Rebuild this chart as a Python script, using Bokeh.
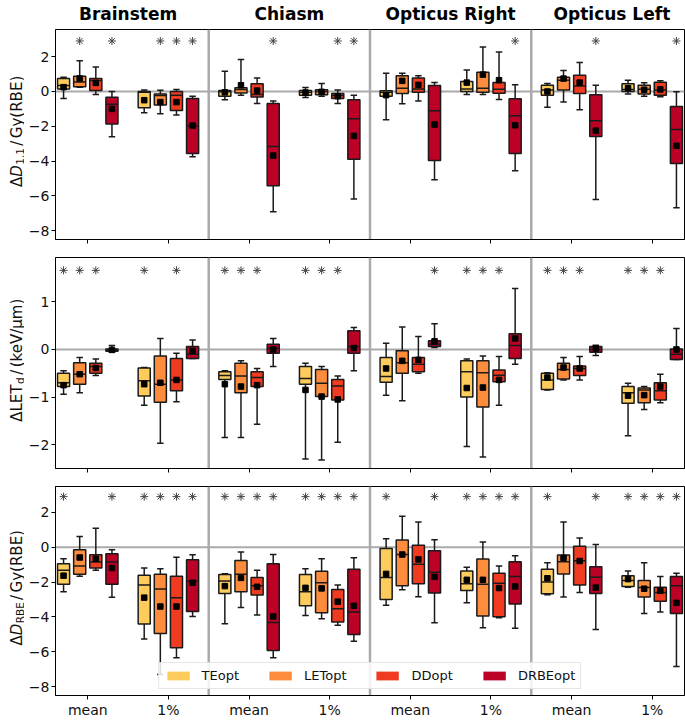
import numpy as np
from bokeh.plotting import figure
from bokeh.models import (ColumnDataSource, Span, LinearAxis, FixedTicker,
                          Range1d, Legend, LegendItem)
from bokeh.core.properties import value
from bokeh.layouts import column, row
from bokeh.embed import file_html
from bokeh.resources import INLINE

# ---------------- data ----------------
structures = ["Brainstem", "Chiasm", "Opticus Right", "Opticus Left"]
metrics = ["mean", "1%"]
methods = ["TEopt", "LETopt", "DDopt", "DRBEopt"]
colors = ["#fecc5c", "#fd8d3c", "#f03b20", "#bd0026"]

# order of every list: structure -> metric (mean, 1%) -> method (TE, LET, DD, DRBE)
# Row 1: Delta D_1.1 / Gy(RBE)
d11_lo = [-0.40, 0.25, -0.17, -2.60, -1.22, -1.28, -1.35, -3.75,
          -0.48, -0.21, -0.69, -6.90, -0.34, -0.27, -0.69, -6.17,
          -1.62, -0.70, -0.55, -5.07, -0.17, -0.17, -0.46, -4.55,
          -0.90, -0.61, -1.05, -6.21, -0.15, -0.27, -0.30, -6.67]
d11_q1 = [0.15, 0.27, 0.06, -1.87, -0.94, -0.78, -1.09, -3.56,
          -0.27, -0.08, -0.32, -5.41, -0.21, -0.19, -0.40, -3.89,
          -0.27, -0.11, -0.04, -3.96, 0.00, -0.04, -0.10, -3.56,
          -0.21, 0.08, -0.11, -2.59, 0.00, -0.15, -0.21, -4.13]
d11_med = [0.35, 0.55, 0.63, -0.73, -0.05, -0.23, -0.21, -1.98,
           -0.02, 0.11, -0.17, -3.16, -0.04, 0.00, -0.23, -1.56,
           -0.04, 0.19, 0.15, -1.10, 0.15, 0.19, 0.13, -1.39,
           0.08, 0.65, 0.32, -1.68, 0.12, 0.13, 0.08, -2.19]
d11_q3 = [0.75, 0.88, 0.74, -0.33, 0.00, -0.14, 0.00, -0.40,
          0.06, 0.21, 0.44, -0.69, 0.06, 0.10, -0.11, -0.48,
          0.04, 0.91, 0.78, 0.34, 0.57, 1.10, 0.51, -0.42,
          0.36, 0.82, 0.93, -0.19, 0.44, 0.36, 0.53, -0.86]
d11_hi = [0.82, 1.77, 1.41, 0.00, 0.08, 0.07, 0.11, -0.27,
          1.16, 1.83, 0.78, -0.55, 0.23, 0.46, 0.08, -0.21,
          1.05, 1.05, 0.91, 0.51, 1.24, 2.55, 2.27, 0.38,
          0.46, 1.20, 1.66, 0.36, 0.65, 0.50, 0.61, -0.02]
d11_mean = [0.25, 0.75, 0.49, -1.00, -0.50, -0.61, -0.61, -1.96,
            -0.05, 0.36, 0.05, -3.68, -0.06, -0.02, -0.27, -2.55,
            -0.21, 0.61, 0.38, -1.90, 0.51, 0.97, 0.65, -1.94,
            0.00, 0.74, 0.51, -2.25, 0.19, 0.10, 0.12, -3.12]
d11_star = [0, 1, 0, 1, 0, 1, 1, 1,
            0, 0, 0, 1, 0, 0, 1, 1,
            0, 0, 0, 0, 0, 0, 0, 1,
            0, 0, 0, 1, 0, 0, 0, 1]

# Row 2: Delta LET_d / (keV/um)
let_lo = [-0.94, -0.91, -0.55, -0.06, -1.17, -1.97, -1.10, -0.19,
          -1.85, -1.85, -1.57, -0.36, -2.30, -2.32, -1.95, -0.45,
          -0.96, -1.08, -0.50, 0.04, -2.04, -2.26, -1.17, -0.31,
          -0.85, -0.64, -0.64, -0.13, -1.81, -1.26, -1.12, -0.21]
let_q1 = [-0.78, -0.73, -0.50, -0.04, -0.98, -1.11, -0.87, -0.19,
          -0.63, -0.91, -0.78, -0.08, -0.73, -0.99, -1.06, -0.08,
          -0.69, -0.50, -0.47, 0.06, -1.00, -1.21, -0.68, -0.19,
          -0.84, -0.62, -0.55, -0.06, -1.13, -1.12, -1.06, -0.21]
let_med = [-0.70, -0.52, -0.36, -0.01, -0.66, -0.73, -0.64, -0.10,
           -0.55, -0.56, -0.59, 0.02, -0.61, -0.71, -0.77, 0.06,
           -0.57, -0.28, -0.31, 0.11, -0.47, -0.49, -0.54, 0.08,
           -0.64, -0.42, -0.40, 0.00, -0.91, -0.85, -0.87, -0.10]
let_q3 = [-0.50, -0.28, -0.29, 0.01, -0.39, -0.14, -0.19, 0.06,
          -0.47, -0.29, -0.47, 0.11, -0.36, -0.42, -0.63, 0.39,
          -0.17, -0.03, -0.17, 0.18, -0.24, -0.24, -0.43, 0.33,
          -0.50, -0.29, -0.35, 0.06, -0.78, -0.81, -0.70, 0.01]
let_hi = [-0.45, -0.17, -0.20, 0.08, -0.38, 0.23, -0.08, 0.20,
          -0.45, -0.24, -0.40, 0.23, -0.29, -0.36, -0.56, 0.46,
          0.13, 0.47, 0.27, 0.54, -0.20, -0.14, -0.15, 1.28,
          -0.49, -0.17, -0.15, 0.09, -0.71, -0.78, -0.52, 0.44]
let_mean = [-0.75, -0.52, -0.39, -0.01, -0.73, -0.70, -0.64, -0.03,
            -0.73, -0.78, -0.75, 0.00, -0.85, -0.99, -1.05, 0.03,
            -0.40, -0.24, -0.22, 0.17, -0.81, -0.80, -0.64, 0.23,
            -0.59, -0.38, -0.40, 0.02, -0.97, -0.96, -0.78, 0.00]
let_star = [1, 1, 1, 0, 1, 0, 1, 0,
            1, 1, 1, 0, 1, 1, 1, 0,
            0, 0, 0, 1, 1, 1, 1, 0,
            1, 1, 1, 0, 1, 1, 1, 0]

# Row 3: Delta D_RBE / Gy(RBE)
drbe_lo = [-2.55, -1.66, -1.32, -2.87, -5.26, -7.30, -6.33, -3.97,
           -4.39, -3.46, -3.88, -6.33, -3.91, -4.10, -4.48, -5.39,
           -3.33, -2.44, -2.84, -4.33, -3.19, -4.61, -4.05, -4.65,
           -2.72, -2.85, -2.59, -4.71, -2.29, -3.80, -3.72, -6.84]
drbe_q1 = [-2.12, -1.55, -1.19, -2.12, -4.40, -4.95, -5.77, -3.69,
           -2.65, -2.55, -2.74, -5.92, -3.35, -3.76, -4.29, -5.01,
           -3.00, -2.21, -2.10, -2.63, -2.48, -3.95, -3.99, -3.25,
           -2.67, -1.53, -2.16, -2.65, -2.25, -2.85, -3.10, -3.80]
drbe_med = [-1.32, -1.08, -0.85, -0.85, -2.17, -2.40, -2.89, -1.95,
            -1.93, -1.55, -2.21, -4.31, -2.55, -2.04, -3.53, -3.72,
            -1.74, -0.42, -0.98, -1.44, -2.10, -2.12, -2.06, -1.68,
            -2.00, -0.83, -0.78, -1.72, -1.91, -2.31, -2.59, -2.21]
drbe_q3 = [-0.95, -0.15, -0.43, -0.38, -1.61, -1.55, -1.66, -0.72,
           -1.57, -0.76, -1.74, -0.95, -1.57, -1.38, -2.42, -1.27,
           -0.08, 0.42, 0.11, -0.21, -1.36, -0.68, -1.49, -0.83,
           -1.27, -0.45, 0.06, -1.12, -1.63, -1.91, -2.29, -1.68]
drbe_hi = [-0.66, 0.62, 1.08, -0.15, -1.19, -1.23, -0.57, -0.43,
           -1.52, -0.28, -1.32, -0.42, -1.23, -0.66, -2.17, -0.60,
           0.49, 1.78, 1.44, 0.43, -1.15, 0.30, -1.08, -0.49,
           -0.89, 1.44, 0.53, 0.15, -1.36, -0.89, -1.68, -1.49]
drbe_mean = [-1.63, -0.59, -0.66, -1.19, -2.89, -3.40, -3.40, -2.04,
             -2.23, -1.76, -2.27, -3.97, -2.33, -2.36, -3.12, -3.36,
             -1.53, -0.42, -0.70, -1.70, -1.87, -1.87, -2.34, -2.25,
             -1.78, -0.62, -0.79, -2.31, -1.83, -2.38, -2.50, -3.19]
drbe_star = [1, 0, 0, 1, 1, 1, 1, 1,
             1, 1, 1, 1, 1, 1, 1, 1,
             1, 0, 0, 1, 1, 1, 1, 1,
             1, 0, 0, 1, 1, 1, 1, 1]

# ---------------- style ----------------
FONT = "DejaVu Sans"
XR = (-0.4, 7.4)
LAB_W = 24            # width of the strip holding the rotated y label
MAIN_W = 685 - LAB_W  # main figure width
BL, BR = 55 - LAB_W, 1
FRAME_H = 211
OFFS = np.array([-0.3, -0.1, 0.1, 0.3])
BOXW = 0.15
CAPW = 0.08
EDGE = "#1a1a1a"

W = {"Δ": .684, "D": .770, "L": .557, "E": .632, "T": .611, "d": .635, "R": .695,
     "B": .686, "G": .775, "y": .592, "(": .390, ")": .390, "/": .337, " ": .318,
     "k": .579, "e": .615, "V": .684, "μ": .636, "m": .974, "1": .636, ".": .318}


def tw(s, size):
    return sum(W.get(c, .6) for c in s) * size


def label_strip(parts, top_border, bottom_border):
    q = figure(width=LAB_W, height=top_border + FRAME_H + bottom_border,
               output_backend="svg", toolbar_location=None,
               x_range=Range1d(0, LAB_W), y_range=Range1d(0, FRAME_H),
               x_axis_type=None, y_axis_type=None,
               min_border_left=0, min_border_right=0,
               min_border_top=top_border, min_border_bottom=bottom_border)
    q.xgrid.visible = False
    q.ygrid.visible = False
    q.outline_line_color = None
    q.border_fill_color = "white"
    total = sum(tw(t, sz) + pad for t, sz, st, dx, pad in parts)
    pos = FRAME_H / 2 - total / 2 + 3
    for t, sz, st, dx, pad in parts:
        q.text(x=[16 + dx], y=[pos], text=[t], angle=np.pi / 2,
               text_align="left", text_baseline="alphabetic",
               text_font=value(FONT), text_font_size=value(f"{sz}px"),
               text_font_style=value(st), text_color="#111111")
        pos += tw(t, sz) + pad
    return q


def make_row(lo, q1, med, q3, hi, mean, star, yr, star_y, yticks,
             top_border, bottom_border, xlabels, titles):
    n = len(lo)
    idx = np.arange(n)
    s = idx // 8
    m = (idx // 4) % 2
    k = idx % 4
    x = 2 * s + m + OFFS[k]

    p = figure(width=MAIN_W, height=top_border + FRAME_H + bottom_border,
               output_backend="svg",
               toolbar_location=None, x_range=Range1d(*XR), y_range=Range1d(*yr),
               min_border_left=BL, min_border_right=BR,
               min_border_top=top_border, min_border_bottom=bottom_border)
    p.xgrid.visible = False
    p.ygrid.visible = False
    p.outline_line_color = "#000000"
    p.outline_line_width = 1
    p.background_fill_color = "white"
    p.border_fill_color = "white"

    # reference lines
    p.add_layout(Span(location=0, dimension="width", line_color="#aaaaaa",
                      line_width=2, level="underlay"))
    for sep in (np.arange(1, len(structures)) * 2 - 0.5):
        p.add_layout(Span(location=float(sep), dimension="height", line_color="#aaaaaa",
                          line_width=2.5, level="underlay"))

    lo = np.array(lo); q1 = np.array(q1); med = np.array(med)
    q3 = np.array(q3); hi = np.array(hi); mean = np.array(mean); star = np.array(star)

    fills = []
    for j in range(len(methods)):
        sel = k == j
        src = ColumnDataSource(dict(
            x=x[sel], lo=lo[sel], q1=q1[sel], med=med[sel], q3=q3[sel], hi=hi[sel],
            mean=mean[sel], cl=x[sel] - CAPW / 2, cr=x[sel] + CAPW / 2,
            bl=x[sel] - BOXW / 2, br=x[sel] + BOXW / 2))
        p.segment(x0="x", y0="q3", x1="x", y1="hi", source=src, line_color=EDGE, line_width=1.5)
        p.segment(x0="x", y0="q1", x1="x", y1="lo", source=src, line_color=EDGE, line_width=1.5)
        p.segment(x0="cl", y0="hi", x1="cr", y1="hi", source=src, line_color=EDGE, line_width=1.5)
        p.segment(x0="cl", y0="lo", x1="cr", y1="lo", source=src, line_color=EDGE, line_width=1.5)
        f = p.quad(left="bl", right="br", bottom="q1", top="q3", source=src,
                   fill_color=colors[j], line_color=None)
        fills.append(f)
        p.quad(left="bl", right="br", bottom="q1", top="q3", source=src,
               fill_color=None, line_color=EDGE, line_width=1.5)
        p.segment(x0="bl", y0="med", x1="br", y1="med", source=src, line_color=EDGE, line_width=1.5)
        p.scatter(x="x", y="mean", source=src, marker="square", size=5.5,
                  fill_color="black", line_color="black")

    sx = x[star == 1]
    p.scatter(x=sx, y=np.full(len(sx), star_y), marker="asterisk", size=8,
              line_color="#444444", line_width=1)

    # axes
    ax = p.xaxis[0]
    ax.ticker = FixedTicker(ticks=list(range(2 * len(structures))))
    ax.major_label_overrides = {i: (metrics[i % 2] if xlabels else "")
                                for i in range(2 * len(structures))}
    ax.major_tick_out = 4
    ax.major_tick_in = 0
    ax.minor_tick_line_color = None
    ax.axis_line_color = "black"
    ax.major_tick_line_color = "black"
    ax.major_label_standoff = 2
    ax.major_label_text_font = FONT
    ax.major_label_text_font_size = "14px" if xlabels else "0px"
    ax.major_label_text_color = "#111111"

    ay = p.yaxis[0]
    ay.ticker = FixedTicker(ticks=yticks)
    ay.major_label_overrides = {t: (str(t).replace("-", "\u2212")) for t in yticks}
    ay.major_tick_out = 4
    ay.major_tick_in = 0
    ay.minor_tick_line_color = None
    ay.axis_line_color = "black"
    ay.major_tick_line_color = "black"
    ay.major_label_standoff = 2
    ay.major_label_text_font = FONT
    ay.major_label_text_font_size = "14px"
    ay.major_label_text_color = "#111111"

    if titles:
        tpos = [2 * i + 0.5 for i in range(len(structures))]
        ta = LinearAxis(ticker=FixedTicker(ticks=tpos),
                        major_label_overrides={t: structures[i] for i, t in enumerate(tpos)})
        ta.axis_line_color = None
        ta.major_tick_line_color = None
        ta.minor_tick_line_color = None
        ta.major_tick_out = 0
        ta.major_tick_in = 0
        ta.minor_tick_out = 0
        ta.minor_tick_in = 0
        ta.major_label_standoff = 6
        ta.major_label_text_font = FONT
        ta.major_label_text_font_size = "17px"
        ta.major_label_text_font_style = "bold"
        ta.major_label_text_color = "#000000"
        p.add_layout(ta, "above")

    return p, fills


p1, _ = make_row(d11_lo, d11_q1, d11_med, d11_q3, d11_hi, d11_mean, d11_star,
                 (-8.5, 3.56), 2.9, [-8, -6, -4, -2, 0, 2], 28, 9, False, True)
l1 = label_strip([("Δ", 15, "normal", 0, 0), ("D", 15, "italic", 0, 0.5),
                  ("1.1", 10.5, "normal", 3, 2.5), ("/", 15, "normal", 0, 2.5),
                  ("Gy(RBE)", 15, "normal", 0, 0)], 28, 9)

p2, _ = make_row(let_lo, let_q1, let_med, let_q3, let_hi, let_mean, let_star,
                 (-2.5, 1.93), 1.66, [-2, -1, 0, 1], 9, 10, False, False)
l2 = label_strip([("ΔLET", 15, "normal", 0, 0.5), ("d", 10.5, "normal", 3, 2.5),
                  ("/", 15, "normal", 0, 2.5), ("(keV/μm)", 15, "normal", 0, 0)], 9, 10)

p3, fills3 = make_row(drbe_lo, drbe_q1, drbe_med, drbe_q3, drbe_hi, drbe_mean, drbe_star,
                      (-8.5, 3.48), 2.9, [-8, -6, -4, -2, 0, 2], 8, 23, True, False)
l3 = label_strip([("Δ", 15, "normal", 0, 0), ("D", 15, "italic", 0, 0.5),
                  ("RBE", 10.5, "normal", 3, 2.5), ("/", 15, "normal", 0, 2.5),
                  ("Gy(RBE)", 15, "normal", 0, 0)], 8, 23)

items = [LegendItem(label=name, renderers=[fills3[j]]) for j, name in enumerate(methods)]
leg = Legend(items=items, orientation="horizontal", location="bottom_center",
             label_text_font=FONT, label_text_font_size="13px", label_text_color="#111111",
             glyph_width=28, glyph_height=11, label_standoff=10, spacing=27,
             padding=5, margin=6, label_height=13,
             border_line_color="#cccccc", border_line_width=1,
             background_fill_color="white", background_fill_alpha=0.85)
p3.add_layout(leg)

layout = column(row(l1, p1, spacing=0), row(l2, p2, spacing=0), row(l3, p3, spacing=0),
                spacing=0)
open("out.html", "w").write(file_html(layout, INLINE))
